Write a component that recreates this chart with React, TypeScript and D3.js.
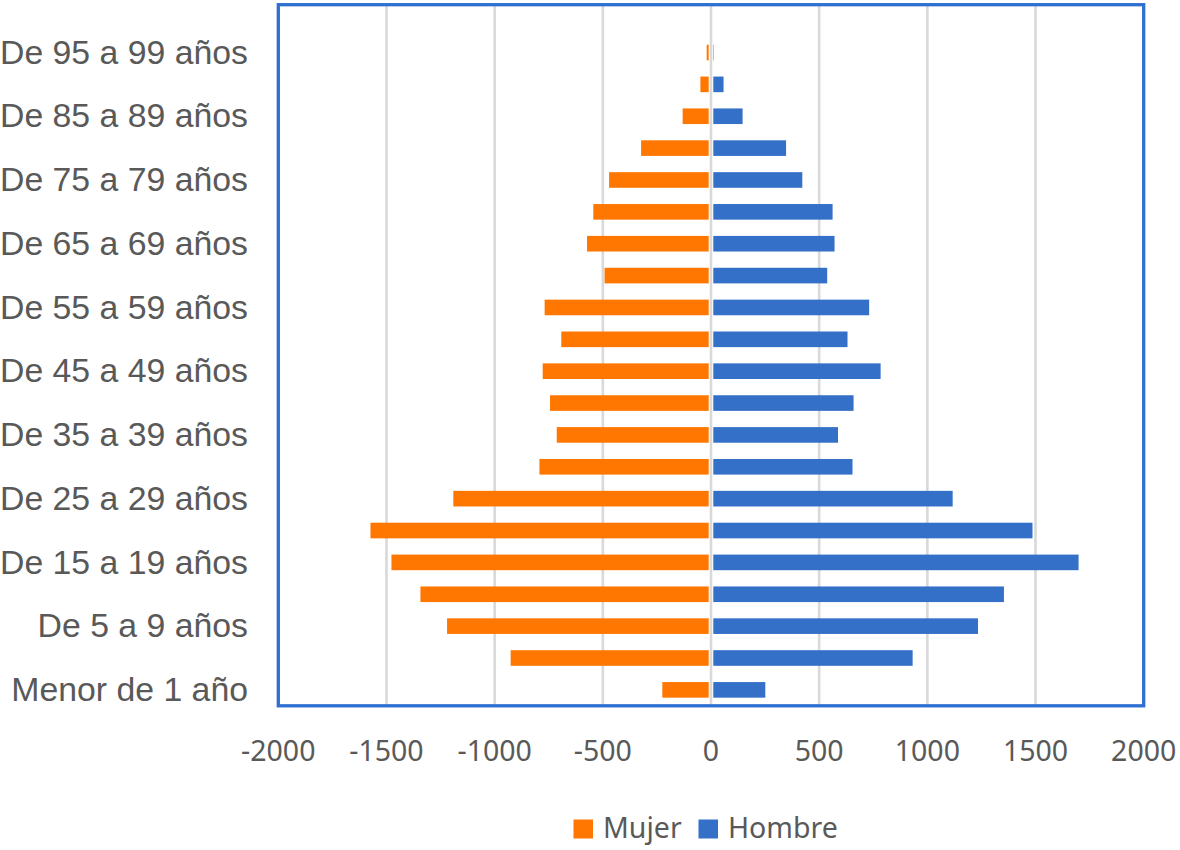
import React from "react";
import * as d3 from "d3";

const categories = [
  "Menor de 1 año", "De 1 a 4 años", "De 5 a 9 años", "De 10 a 14 años",
  "De 15 a 19 años", "De 20 a 24 años", "De 25 a 29 años", "De 30 a 34 años",
  "De 35 a 39 años", "De 40 a 44 años", "De 45 a 49 años", "De 50 a 54 años",
  "De 55 a 59 años", "De 60 a 64 años", "De 65 a 69 años", "De 70 a 74 años",
  "De 75 a 79 años", "De 80 a 84 años", "De 85 a 89 años", "De 90 a 94 años",
  "De 95 a 99 años", "De 100 años y más",
];

const mujer = [
  -225, -926, -1220, -1343, -1477, -1574, -1191, -793, -713, -744, -778,
  -692, -769, -492, -573, -544, -471, -323, -131, -49, -20, 0,
];

const hombre = [
  251, 932, 1234, 1354, 1699, 1486, 1117, 654, 587, 659, 784,
  631, 731, 537, 571, 562, 422, 347, 146, 58, 12, 0,
];

const xTicks = [-2000, -1500, -1000, -500, 0, 500, 1000, 1500, 2000];

const seriesNames = ["Mujer", "Hombre"];
const colors = ["#FF7700", "#3470C8"];

export default function App() {
  const W = 1180, H = 850;
  const left = 278.3, right = 1143.7, top = 4.7, bottom = 705.8;

  const x = d3.scaleLinear().domain([-2000, 2000]).range([left, right]);
  const y = d3
    .scaleBand<string>()
    .domain([...categories].reverse())
    .range([top, bottom])
    .paddingInner(0.51)
    .paddingOuter(0.255);

  const textColor = "#595959";
  const bw = y.bandwidth();

  return (
    <svg
      width={W}
      height={H}
      style={{ position: "absolute", left: 0, top: 0, background: "#fff" }}
    >
      {/* gridlines */}
      {xTicks.map((t) => (
        <line
          key={"g" + t}
          x1={x(t)}
          x2={x(t)}
          y1={top}
          y2={bottom}
          stroke="#D9D9D9"
          strokeWidth={2.6}
        />
      ))}

      {/* bars */}
      {categories.map((c, i) => (
        <g key={c}>
          <rect
            x={x(mujer[i])}
            y={y(c)}
            width={Math.max(0, x(0) - x(mujer[i]))}
            height={bw}
            fill={colors[0]}
          />
          <rect
            x={x(0)}
            y={y(c)}
            width={Math.max(0, x(hombre[i]) - x(0))}
            height={bw}
            fill={colors[1]}
          />
        </g>
      ))}

      {/* zero line on top */}
      <line x1={x(0)} x2={x(0)} y1={top} y2={bottom} stroke="#fff" strokeWidth={4.6} />
      <line x1={x(0)} x2={x(0)} y1={top} y2={bottom} stroke="#D9D9D9" strokeWidth={2.6} />

      {/* plot border */}
      <rect
        x={left}
        y={top}
        width={right - left}
        height={bottom - top}
        fill="none"
        stroke="#2F6FD0"
        strokeWidth={3.3}
      />

      {/* y labels */}
      {categories.map((c, i) =>
        i % 2 === 0 ? (
          <text
            key={"l" + c}
            x={248}
            y={(y(c) as number) + bw / 2}
            dy="0.33em"
            textAnchor="end"
            fontFamily="'Liberation Sans', Arial, sans-serif"
            fontSize={33.8}
            fill={textColor}
          >
            {c}
          </text>
        ) : null
      )}

      {/* x tick labels */}
      {xTicks.map((t) => (
        <text
          key={"t" + t}
          x={x(t)}
          y={760.5}
          textAnchor="middle"
          fontFamily="'Noto Sans', 'Open Sans', sans-serif"
          fontSize={28.5}
          fill={textColor}
        >
          {t}
        </text>
      ))}

      {/* legend */}
      <g fontFamily="'Noto Sans', 'Open Sans', sans-serif" fontSize={28.5} fill={textColor}>
        <rect x={573.5} y={819.5} width={19.5} height={19} fill={colors[0]} />
        <text x={603} y={838}>{seriesNames[0]}</text>
        <rect x={698.5} y={819.5} width={19.5} height={19} fill={colors[1]} />
        <text x={728} y={838}>{seriesNames[1]}</text>
      </g>
    </svg>
  );
}
